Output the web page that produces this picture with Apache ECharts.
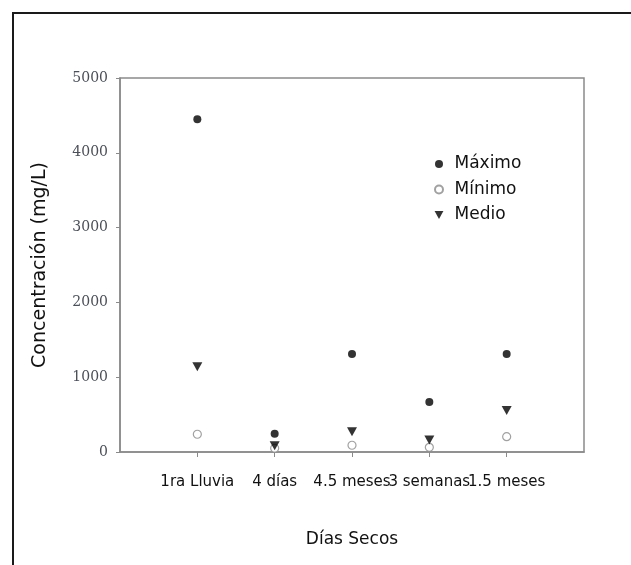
<!DOCTYPE html>
<html>
<head>
<meta charset="utf-8">
<script src="https://cdn.jsdelivr.net/npm/echarts@6/dist/echarts.min.js"></script>
<style>html,body{margin:0;padding:0;background:#fff}#c{width:631px;height:565px}</style>
</head>
<body>
<div id="c"></div>
<script>
var categories = ['1ra Lluvia', '4 días', '4.5 meses', '3 semanas', '1.5 meses'];
var maximo = [4450, 245, 1310, 670, 1310];
var minimo = [237, 50, 90, 63, 205];
var medio = [1140, 85, 270, 160, 555];
var yTicks = [0, 1000, 2000, 3000, 4000, 5000];
var seriesNames = ['Máximo', 'Mínimo', 'Medio'];

// axis slots: one empty slot at each end, categories in between
var axisSlots = [''].concat(categories, ['']);
function pts(arr) { return arr.map(function (v, i) { return [i + 1, v]; }); }
var downTri = 'path://M0,0L10,0L5,9Z';

var chart = echarts.init(document.getElementById('c'), null, {renderer: 'canvas'});
chart.setOption({
  animation: false,
  backgroundColor: '#fff',
  graphic: [{
    type: 'rect', shape: {x: 13, y: 13, width: 700, height: 700},
    style: {fill: null, stroke: '#1a1a1a', lineWidth: 2}, z: 0
  }],
  grid: {left: 120, top: 78, width: 464, height: 374, show: true, borderColor: '#8a8a8a', borderWidth: 1.5, backgroundColor: 'transparent'},
  xAxis: {
    type: 'category', data: axisSlots, boundaryGap: false,
    name: 'Días Secos', nameLocation: 'middle', nameGap: 79,
    nameTextStyle: {fontFamily: 'DejaVu Sans', fontSize: 17, color: '#111'},
    axisLine: {show: true, onZero: false, lineStyle: {color: '#8a8a8a', width: 1.5}},
    axisTick: {show: true, length: 5, lineStyle: {color: '#8a8a8a'},
      interval: function (idx, val) { return val !== ''; }},
    axisLabel: {interval: 0, margin: 23, fontFamily: 'DejaVu Sans', fontSize: 15, color: '#111'},
    splitLine: {show: false}
  },
  yAxis: {
    type: 'value', min: 0, max: 5000, interval: 1000,
    name: 'Concentración (mg/L)', nameLocation: 'middle', nameGap: 70,
    nameTextStyle: {fontFamily: 'DejaVu Sans', fontSize: 19, color: '#111'},
    axisLine: {show: true, lineStyle: {color: '#8a8a8a', width: 1.5}},
    axisTick: {show: true, length: 4, lineStyle: {color: '#8a8a8a'}},
    axisLabel: {margin: 12, fontFamily: 'DejaVu Serif', fontSize: 14, color: '#4a4f58',
      formatter: function (v) { return yTicks.indexOf(v) >= 0 ? String(v) : ''; }},
    splitLine: {show: false}
  },
  legend: {
    orient: 'vertical', left: 429, top: 149, itemGap: 5.5, itemWidth: 9, itemHeight: 8,
    symbolRotate: 0,
    textStyle: {fontFamily: 'DejaVu Sans', fontSize: 17, color: '#111', lineHeight: 20, padding: [0, 0, 0, 6]},
    data: [
      {name: seriesNames[0], icon: 'circle'},
      {name: seriesNames[1], icon: 'circle'},
      {name: seriesNames[2], icon: downTri}
    ]
  },
  series: [
    {name: seriesNames[0], type: 'scatter', data: pts(maximo), symbol: 'circle', symbolSize: 8,
      itemStyle: {color: '#000'}},
    {name: seriesNames[1], type: 'scatter', data: pts(minimo), symbol: 'circle', symbolSize: 8,
      itemStyle: {color: '#fff', borderColor: '#8a8a8a', borderWidth: 1.2}},
    {name: seriesNames[2], type: 'scatter', data: pts(medio), symbol: downTri, symbolSize: [10, 9],
      itemStyle: {color: '#000'}}
  ]
});
</script>
</body>
</html>
